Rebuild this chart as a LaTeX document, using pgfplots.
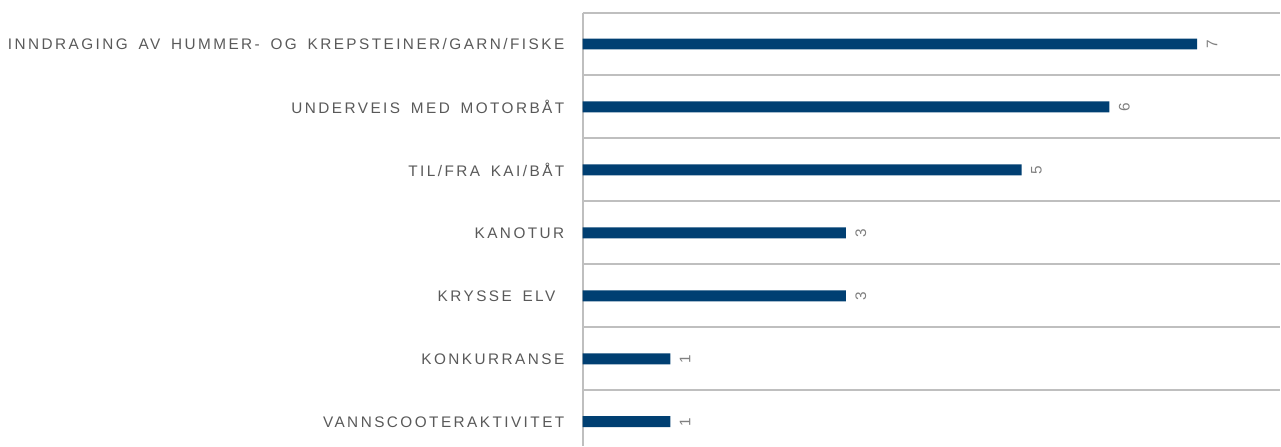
\documentclass[border=0pt]{standalone}
\usepackage{pgfplots}
\pgfplotsset{compat=1.18}
\usepackage{fontspec}
\setmainfont{Liberation Sans}
\newfontfamily\labfont[LetterSpace=16, WordSpace=1.6]{Liberation Sans}
\definecolor{barblue}{RGB}{0,63,114}
\definecolor{labgray}{RGB}{89,89,89}
\definecolor{valgray}{RGB}{128,128,128}
\definecolor{gridgray}{RGB}{191,191,191}

\begin{document}
\begin{tikzpicture}
\begin{axis}[
  xbar,
  scale only axis,
  width=523.5pt, height=325.1pt,
  xmin=0, xmax=7.944,
  ymin=-0.5, ymax=6.38,
  y dir=reverse,
  axis x line=none,
  axis y line=left,
  axis line style={-, gridgray, line width=1.5pt},
  ytick={0,...,6},
  yticklabels={INNDRAGING AV HUMMER- OG KREPSTEINER/GARN/FISKE,
    UNDERVEIS MED MOTORBÅT, TIL/FRA KAI/BÅT, KANOTUR, KRYSSE ELV\kern6.75pt,
    KONKURRANSE, VANNSCOOTERAKTIVITET},
  major tick length=0pt,
  minor ytick={-0.5,0.5,...,5.5},
  minor tick length=0pt,
  yminorgrids=true,
  minor grid style={gridgray, line width=1.5pt},
  yticklabel style={font=\labfont\fontsize{11.5}{12}\selectfont, text=labgray,
    anchor=east, inner sep=0pt, xshift=-13.5pt},
  bar width=8.25pt,
  nodes near coords,
  /pgf/number format/assume math mode=true,
  every node near coord/.append style={rotate=90, anchor=north,
    font=\fontsize{11.5}{12}\selectfont, text=valgray, inner sep=7pt},
]
\addplot[fill=barblue, draw=none] coordinates {
  (7,0) (6,1) (5,2) (3,3) (3,4) (1,5) (1,6)};
\end{axis}
\path ([xshift=-437.25pt,yshift=9.4pt]current axis.north west)
  rectangle (current axis.south east);
\end{tikzpicture}
\end{document}
